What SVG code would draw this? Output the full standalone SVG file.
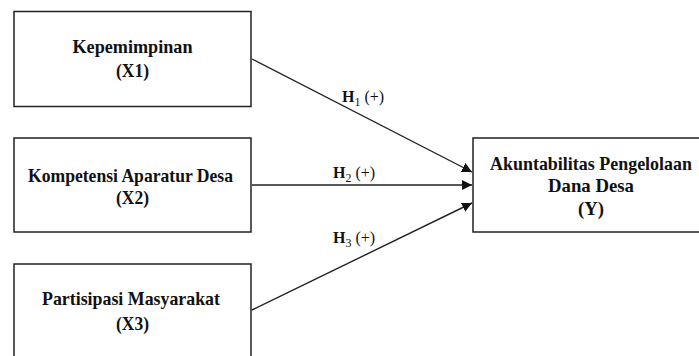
<svg xmlns="http://www.w3.org/2000/svg" width="699" height="356" viewBox="0 0 699 356">
<style>
.box{fill:#fff;stroke:#222;stroke-width:1.5}
.t{font-family:'Liberation Serif',serif;font-weight:700;font-size:19px;fill:#111;text-anchor:middle}
.h{font-family:'Liberation Serif',serif;font-size:16px;fill:#111}
.c{stroke:#222;stroke-width:1.4;fill:none}
</style>
<defs>
<marker id="arr" viewBox="0 0 10 10" refX="10" refY="5" markerWidth="10" markerHeight="10" markerUnits="userSpaceOnUse" orient="auto">
<path d="M0,0 L10,5 L0,10 z" fill="#111"/>
</marker>
</defs>
<rect width="699" height="356" fill="#fff"/>
<g id="x1">
<rect class="box" x="14" y="11.5" width="237" height="95"/>
<text class="t" x="132.5" y="53" textLength="120" lengthAdjust="spacingAndGlyphs">Kepemimpinan</text>
<text class="t" x="132.5" y="76.5" textLength="33" lengthAdjust="spacingAndGlyphs">(X1)</text>
</g>
<g id="x2">
<rect class="box" x="14" y="138" width="237" height="94"/>
<text class="t" x="130.5" y="182" textLength="205" lengthAdjust="spacingAndGlyphs">Kompetensi Aparatur Desa</text>
<text class="t" x="132.5" y="203.5" textLength="33" lengthAdjust="spacingAndGlyphs">(X2)</text>
</g>
<g id="x3">
<rect class="box" x="14" y="264" width="237" height="110"/>
<text class="t" x="131" y="305" textLength="178" lengthAdjust="spacingAndGlyphs">Partisipasi Masyarakat</text>
<text class="t" x="132.5" y="330" textLength="33" lengthAdjust="spacingAndGlyphs">(X3)</text>
</g>
<g id="y">
<rect class="box" x="473" y="138" width="240" height="94"/>
<text class="t" x="591" y="170" textLength="202" lengthAdjust="spacingAndGlyphs">Akuntabilitas Pengelolaan</text>
<text class="t" x="591" y="192" textLength="86" lengthAdjust="spacingAndGlyphs">Dana Desa</text>
<text class="t" x="591" y="215" textLength="26" lengthAdjust="spacingAndGlyphs">(Y)</text>
</g>
<g id="connectors">
<line class="c" x1="252" y1="59" x2="472" y2="172" marker-end="url(#arr)"/>
<line class="c" x1="252" y1="185" x2="472" y2="185" marker-end="url(#arr)"/>
<line class="c" x1="252" y1="310" x2="472" y2="203" marker-end="url(#arr)"/>
<text class="h" x="342" y="102"><tspan font-weight="bold">H</tspan><tspan font-size="12" dy="4">1</tspan><tspan dy="-4"> (+)</tspan></text>
<text class="h" x="333" y="178"><tspan font-weight="bold">H</tspan><tspan font-size="12" dy="4">2</tspan><tspan dy="-4"> (+)</tspan></text>
<text class="h" x="333" y="243"><tspan font-weight="bold">H</tspan><tspan font-size="12" dy="4">3</tspan><tspan dy="-4"> (+)</tspan></text>
</g>
</svg>
